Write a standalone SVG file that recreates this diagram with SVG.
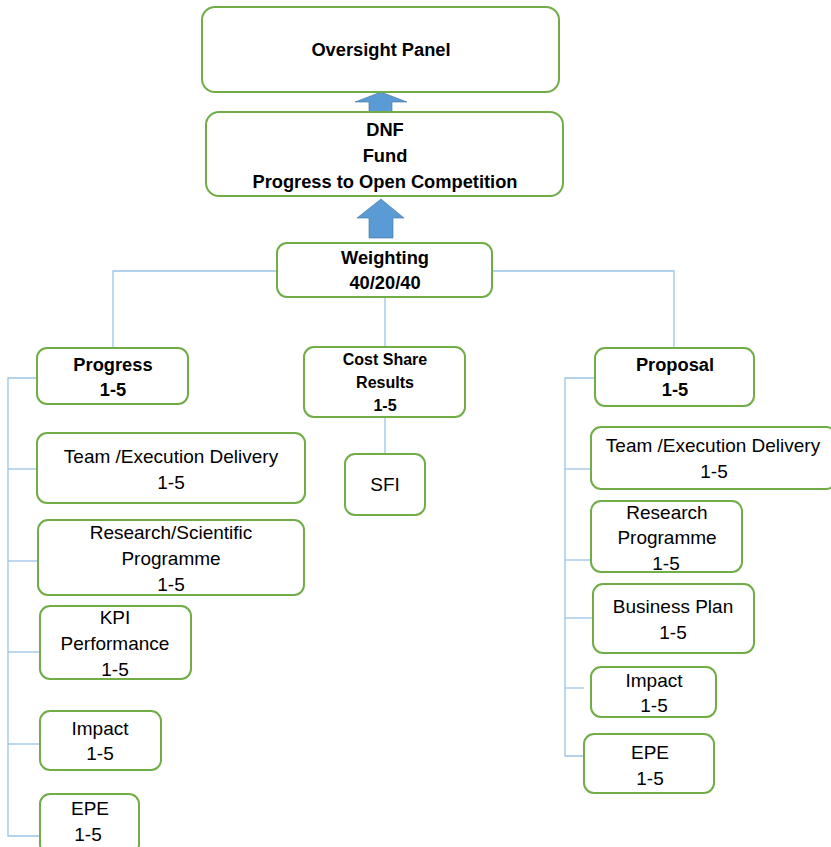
<svg xmlns="http://www.w3.org/2000/svg" width="831" height="847" viewBox="0 0 831 847">
<style>
.box{fill:#fff;stroke:#70ad47;stroke-width:2}
.ln{fill:none;stroke:#9dc3e6;stroke-width:1.3}
.arr{fill:#5b9bd5;stroke:#41719c;stroke-width:0.6}
text{font-family:"Liberation Sans",Arial,sans-serif;font-size:19px;fill:#000;text-anchor:middle}
.b{font-weight:bold;font-size:18.3px}
.s{font-size:16px}
</style>
<rect width="831" height="847" fill="#fff"/>
<g id="connectors">
<path class="ln" d="M277,271 H113 V348"/>
<path class="ln" d="M492,271 H674 V348"/>
<path class="ln" d="M385,297 V347"/>
<path class="ln" d="M385,417 V454"/>
<path class="ln" d="M37,378 H8 V836 H40"/>
<path class="ln" d="M8,469 H37"/>
<path class="ln" d="M8,561 H38"/>
<path class="ln" d="M8,652 H40"/>
<path class="ln" d="M8,744 H40"/>
<path class="ln" d="M595,378 H565 V756 H584"/>
<path class="ln" d="M565,469 H591"/>
<path class="ln" d="M565,560 H591"/>
<path class="ln" d="M565,618 H593"/>
<path class="ln" d="M565,688 H584"/>
<polygon class="arr" points="369,112 369,102 355,102 381,92 407,102 392,102 392,112"/>
<polygon class="arr" points="369,238 369,218 357,218 381,199 404,218 393,218 393,238"/>
</g>
<g id="oversight"><rect class="box" x="202" y="7" width="357" height="85" rx="13"/><text class="b" x="381" y="56">Oversight Panel</text></g>
<g id="dnf"><rect class="box" x="206" y="112" width="357" height="84" rx="13"/><text class="b" x="385" y="136">DNF</text><text class="b" x="385" y="162">Fund</text><text class="b" x="385" y="188">Progress to Open Competition</text></g>
<g id="weighting"><rect class="box" x="277" y="243" width="215" height="54" rx="10"/><text class="b" x="385" y="264">Weighting</text><text class="b" x="385" y="289">40/20/40</text></g>
<g id="progress"><rect class="box" x="37" y="348" width="151" height="56" rx="10"/><text class="b" x="113" y="371">Progress</text><text class="b" x="113" y="396">1-5</text></g>
<g id="costshare"><rect class="box" x="304" y="347" width="161" height="70" rx="10"/><text class="b s" x="385" y="365">Cost Share</text><text class="b s" x="385" y="388">Results</text><text class="b s" x="385" y="411">1-5</text></g>
<g id="sfi"><rect class="box" x="345" y="454" width="80" height="61" rx="10"/><text x="385" y="491">SFI</text></g>
<g id="proposal"><rect class="box" x="595" y="348" width="159" height="58" rx="10"/><text class="b" x="675" y="371">Proposal</text><text class="b" x="675" y="396">1-5</text></g>
<g id="l-team"><rect class="box" x="37" y="433" width="268" height="70" rx="10"/><text x="171" y="463">Team /Execution Delivery</text><text x="171" y="489">1-5</text></g>
<g id="l-research"><rect class="box" x="38" y="520" width="266" height="75" rx="10"/><text x="171" y="539">Research/Scientific</text><text x="171" y="565">Programme</text><text x="171" y="591">1-5</text></g>
<g id="l-kpi"><rect class="box" x="40" y="606" width="151" height="73" rx="10"/><text x="115" y="624">KPI</text><text x="115" y="650">Performance</text><text x="115" y="676">1-5</text></g>
<g id="l-impact"><rect class="box" x="40" y="711" width="121" height="59" rx="10"/><text x="100" y="735">Impact</text><text x="100" y="760">1-5</text></g>
<g id="l-epe"><rect class="box" x="40" y="794" width="99" height="60" rx="10"/><text x="90" y="815">EPE</text><text x="88" y="841">1-5</text></g>
<g id="r-team"><rect class="box" x="591" y="427" width="245" height="62" rx="10"/><text x="713" y="452">Team /Execution Delivery</text><text x="714" y="478">1-5</text></g>
<g id="r-research"><rect class="box" x="591" y="501" width="151" height="71" rx="10"/><text x="667" y="519">Research</text><text x="667" y="544">Programme</text><text x="666" y="570">1-5</text></g>
<g id="r-business"><rect class="box" x="593" y="584" width="161" height="69" rx="10"/><text x="673" y="613">Business Plan</text><text x="673" y="639">1-5</text></g>
<g id="r-impact"><rect class="box" x="591" y="667" width="125" height="50" rx="10"/><text x="654" y="687">Impact</text><text x="654" y="712">1-5</text></g>
<g id="r-epe"><rect class="box" x="584" y="734" width="130" height="59" rx="10"/><text x="650" y="759">EPE</text><text x="650" y="785">1-5</text></g>
</svg>
